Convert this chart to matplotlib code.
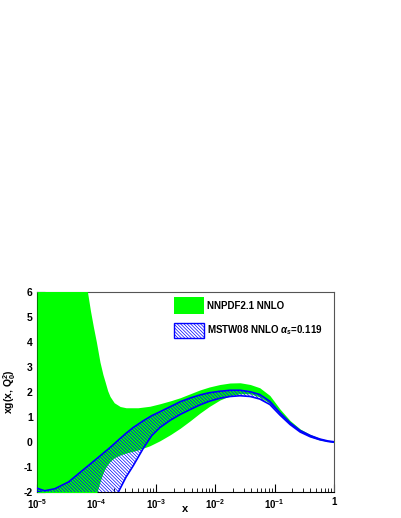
import numpy as np
import matplotlib
matplotlib.use("Agg")
import matplotlib.pyplot as plt
from matplotlib.patches import Rectangle

plt.rcParams['font.family'] = ['Liberation Sans', 'DejaVu Sans']
plt.rcParams['font.weight'] = 'bold'
plt.rcParams['mathtext.fontset'] = 'custom'
plt.rcParams['mathtext.rm'] = 'Liberation Sans:bold'
plt.rcParams['mathtext.it'] = 'Liberation Sans:italic:bold'
plt.rcParams['mathtext.bf'] = 'Liberation Sans:bold'
plt.rcParams['hatch.linewidth'] = 0.5
plt.rcParams['axes.unicode_minus'] = False

# NNPDF2.1 NNLO band (log10 x, lower, upper)
nn_logx = [-5.0, -4.5, -4.3, -4.2, -4.15, -4.1, -4.05, -4.0, -3.94, -3.89,
           -3.85, -3.81, -3.77, -3.7, -3.6, -3.5, -3.3, -3.1, -2.93, -2.75,
           -2.59, -2.42, -2.26, -2.1, -1.92, -1.75, -1.58, -1.41, -1.25, -1.08,
           -0.91, -0.74, -0.57, -0.4, -0.24, -0.1, 0.0]
nn_lo = [-2.5, -2.5, -2.5, -2.5, -2.45, -2.4, -2.3, -2.1, -1.6, -1.25,
         -1.05, -0.9, -0.78, -0.63, -0.52, -0.44, -0.32, -0.15, 0.05, 0.3,
         0.55, 0.85, 1.15, 1.42, 1.68, 1.85, 1.93, 1.93, 1.8, 1.55,
         1.12, 0.72, 0.42, 0.21, 0.08, 0.02, -0.01]
nn_hi = [9.0, 8.5, 7.6, 6.6, 6.0, 5.25, 4.6, 4.0, 3.2, 2.7,
         2.38, 2.05, 1.82, 1.57, 1.42, 1.37, 1.37, 1.43, 1.53, 1.65,
         1.77, 1.93, 2.08, 2.2, 2.3, 2.36, 2.37, 2.3, 2.17, 1.86,
         1.32, 0.86, 0.52, 0.3, 0.15, 0.05, 0.01]

# MSTW08 NNLO band (log10 x, lower, upper)
mstw_logx = [-5.0, -4.87, -4.7, -4.47, -4.19, -3.91, -3.75, -3.63, -3.5, -3.38,
             -3.21, -3.07, -2.93, -2.75, -2.59, -2.42, -2.26, -2.1, -1.92, -1.75,
             -1.58, -1.41, -1.25, -1.08, -0.91, -0.74, -0.57, -0.4, -0.24, -0.1, 0.0]
mstw_lo = [-1.97, -2.05, -2.2, -2.4, -2.6, -2.6, -2.35, -2.0, -1.4, -0.95,
           -0.25, 0.25, 0.58, 0.88, 1.1, 1.3, 1.48, 1.63, 1.75, 1.82,
           1.85, 1.82, 1.72, 1.5, 1.08, 0.7, 0.4, 0.21, 0.09, 0.02, -0.01]
mstw_hi = [-1.85, -1.95, -1.87, -1.6, -1.05, -0.5, -0.18, 0.08, 0.35, 0.58,
           0.85, 1.05, 1.21, 1.42, 1.61, 1.76, 1.88, 1.97, 2.03, 2.07,
           2.07, 2.01, 1.9, 1.63, 1.17, 0.77, 0.46, 0.26, 0.12, 0.04, 0.01]

x_ticks = [1e-5, 1e-4, 1e-3, 1e-2, 1e-1, 1]
x_ticklabels = [r'$10^{-5}$', r'$10^{-4}$', r'$10^{-3}$', r'$10^{-2}$', r'$10^{-1}$', '1']

nn_x = 10 ** np.array(nn_logx)
mstw_x = 10 ** np.array(mstw_logx)

green = '#00ff00'
blue = '#0000ff'
hatch = '\\' * 10

fig = plt.figure(figsize=(4.01, 5.18), dpi=100)
ax = fig.add_axes([37 / 401, 26 / 518, 297 / 401, 200 / 518])

ax.fill_between(nn_x, nn_lo, nn_hi, color=green, lw=0, zorder=1)
ax.fill_between(mstw_x, mstw_lo, mstw_hi, facecolor='none', edgecolor=blue,
                hatch=hatch, lw=0, zorder=2)
ax.plot(mstw_x, mstw_lo, color=blue, lw=1.2, zorder=3)
ax.plot(mstw_x, mstw_hi, color=blue, lw=1.2, zorder=3)

ax.set_xscale('log')
ax.set_xlim(1e-5, 1)
ax.set_ylim(-2, 6)
ax.set_axisbelow(True)
for s in ax.spines.values():
    s.set_linewidth(0.8)
    s.set_zorder(0.6)
ax.spines['top'].set_color('#555555')
ax.spines['right'].set_color('#555555')

ax.set_xticks(x_ticks)
ax.set_xticklabels(x_ticklabels)
ax.tick_params(axis='both', which='both', direction='in', labelsize=7.5)
ax.tick_params(axis='x', which='major', length=6, pad=3.5, labelsize=7)
ax.tick_params(axis='x', which='minor', length=3)
ax.tick_params(axis='y', which='major', length=6, pad=3)
ax.set_yticks(range(-2, 7))

ax.set_xlabel('x', fontsize=8, fontweight='bold')
ax.xaxis.set_label_coords(0.5, -0.06)
ax.set_ylabel(r'xg(x, Q$_0^2$)', fontsize=7.5, fontweight='bold')
ax.yaxis.set_label_coords(-0.065, 0.5)

# legend
ax.add_patch(Rectangle((0.462, 0.89), 0.1, 0.085, transform=ax.transAxes,
                       facecolor=green, edgecolor='none', zorder=4))
ax.add_patch(Rectangle((0.462, 0.77), 0.1, 0.075, transform=ax.transAxes,
                       facecolor='white', edgecolor=blue, hatch=hatch,
                       lw=1.0, zorder=4))
ax.text(0.572, 0.932, 'NNPDF2.1 NNLO', transform=ax.transAxes, fontsize=7,
        fontweight='bold', va='center', ha='left', zorder=5)
ax.text(0.572, 0.808, r'MSTW08 NNLO $\alpha_s$=0.119', transform=ax.transAxes,
        fontsize=7, fontweight='bold', va='center', ha='left', zorder=5)

fig.savefig('out.png', dpi=100)
